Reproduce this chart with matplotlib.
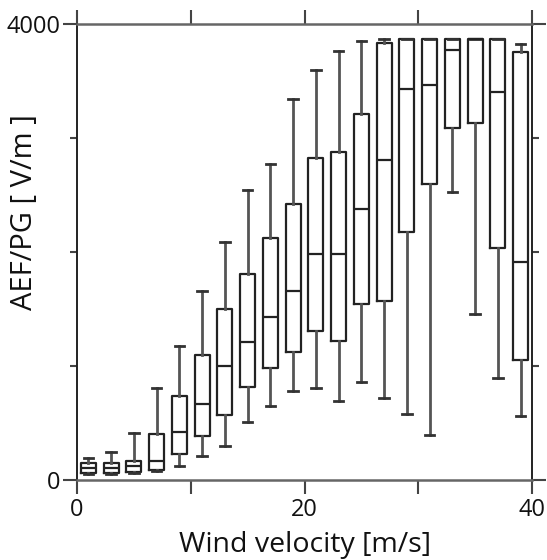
import matplotlib
matplotlib.use("Agg")
import matplotlib.pyplot as plt
from matplotlib.ticker import FixedLocator, NullFormatter

# Data (AEF/PG [V/m] per wind-velocity bin)
wind = [1, 3, 5, 7, 9, 11, 13, 15, 17, 19, 21, 23, 25, 27, 29, 31, 33, 35, 37, 39]
whislo = [50, 50, 60, 82, 120, 211, 298, 509, 649, 784, 810, 693, 857, 716, 576, 395, 2523, 1456, 892, 564]
q1 = [64, 64, 73, 88, 228, 386, 567, 819, 980, 1126, 1307, 1219, 1544, 1573, 2178, 2596, 3085, 3135, 2032, 1053]
med = [102, 102, 123, 170, 418, 664, 1000, 1213, 1433, 1661, 1982, 1980, 2377, 2804, 3427, 3465, 3772, 3868, 3406, 1910]
q3 = [146, 152, 170, 404, 737, 1096, 1503, 1807, 2120, 2421, 2828, 2880, 3210, 3830, 3868, 3868, 3868, 3868, 3868, 3757]
whishi = [190, 243, 415, 804, 1175, 1661, 2088, 2544, 2769, 3342, 3596, 3766, 3854, 3868, 3868, 3868, 3868, 3868, 3868, 3821]

x_ticks_major = [0, 20, 40]
x_ticks_minor = [10, 30]
y_ticks_major = [0, 4000]
y_ticks_minor = [1000, 2000, 3000]

plt.rcParams['font.family'] = ['Open Sans', 'DejaVu Sans']

fig = plt.figure(figsize=(5.47, 5.60), dpi=100)
ax = fig.add_axes([77/547, 1-480/560, (532-77)/547, (480-24)/560])

stats = []
for i in range(len(wind)):
    stats.append(dict(med=med[i], q1=q1[i], q3=q3[i], whislo=whislo[i], whishi=whishi[i], fliers=[]))

ax.bxp(stats, positions=wind, widths=1.3, capwidths=0.85, showfliers=False,
       boxprops=dict(color='#222222', linewidth=1.6),
       medianprops=dict(color='#222222', linewidth=1.6),
       whiskerprops=dict(color='#555555', linewidth=2.0),
       capprops=dict(color='#333333', linewidth=2.0),
       manage_ticks=False)

ax.set_xlim(0, 40)
ax.set_ylim(0, 4000)

ax.xaxis.set_major_locator(FixedLocator(x_ticks_major))
ax.xaxis.set_minor_locator(FixedLocator(x_ticks_minor))
ax.yaxis.set_major_locator(FixedLocator(y_ticks_major))
ax.yaxis.set_minor_locator(FixedLocator(y_ticks_minor))
ax.xaxis.set_minor_formatter(NullFormatter())
ax.yaxis.set_minor_formatter(NullFormatter())

ax.tick_params(axis='both', which='both', direction='out', top=True, right=True,
               color='#444444', width=1.5, labelsize=17, labelcolor='#111111')
ax.tick_params(axis='x', which='both', length=10, pad=3)
ax.tick_params(axis='y', which='major', length=10, pad=2)
ax.tick_params(axis='y', which='minor', length=5)

for side in ['left', 'right']:
    ax.spines[side].set_color('#222222')
    ax.spines[side].set_linewidth(1.4)
for side in ['top', 'bottom']:
    ax.spines[side].set_color('#666666')
    ax.spines[side].set_linewidth(1.8)

fig.text(305/547, 1-552/560, 'Wind velocity [m/s]', ha='center', va='baseline', fontsize=20.5, color='#111111')
fig.text(25/547, 1-212/560, 'AEF/PG [ V/m ]', ha='center', va='center', rotation=90, fontsize=21, color='#111111')

fig.savefig('out.png', dpi=100)
